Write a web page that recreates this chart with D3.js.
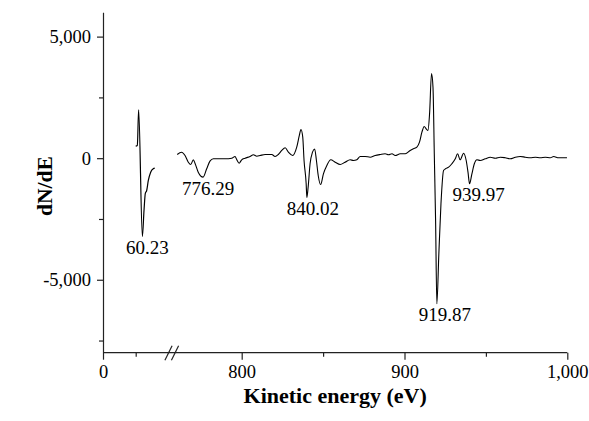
<!DOCTYPE html>
<html><head><meta charset="utf-8">
<script src="https://cdn.jsdelivr.net/npm/d3@7"></script>
<style>
body{margin:0;background:#fff;}
text{font-family:"Liberation Serif","Times New Roman",serif;fill:#000;}
</style></head><body>
<svg id="chart" width="589" height="421"></svg>
<script>
// ---- data ----
const lowEnergy = [50.0, 52.5, 54.5, 60.23, 62.7, 64.7, 66.8, 69.3, 72.9, 76.9, 79.1];
const lowSignal = [494, 520, 1990, -3220, -2151, -1452, -1329, -917, -576, -436, -411];

const highEnergy = [760.4, 763.1, 765.2, 767.2, 768.7, 770.3, 771.3, 773.3, 776.29, 778.5,
  780.5, 782.6, 785.6, 789.8, 793.9, 795.9, 797.0, 798.4, 800.0, 802.1,
  805.1, 807.2, 809.3, 811.3, 814.4, 816.4, 818.5, 820.5, 822.5, 824.6,
  826.7, 828.7, 831.3, 833.8, 835.4, 836.4, 837.5, 838.3, 839.6, 840.02,
  840.8, 842.0, 843.5, 844.8, 845.9, 847.0, 848.5, 850.2, 852.3, 854.7,
  857.4, 860.5, 863.5, 866.6, 868.6, 870.7, 872.8, 875.8, 878.9, 882.0,
  885.1, 888.1, 890.2, 892.3, 894.3, 897.4, 900.5, 903.5, 905.5, 907.6,
  909.2, 910.7, 912.1, 913.3, 914.4, 915.4, 916.6, 917.5, 918.3, 919.1,
  919.87, 921.1, 922.4, 924.0, 925.2, 927.1, 929.1, 931.2, 932.6, 934.2,
  936.3, 937.9, 939.0, 939.97, 941.4, 942.9, 944.5, 946.5, 949.6, 952.7,
  955.8, 958.8, 961.9, 965.0, 968.1, 971.1, 974.2, 977.3, 980.4, 983.4,
  986.5, 989.6, 991.6, 994.7, 999.8];
const highSignal = [152, 247, 111, -165, -259, -66, -206, -576, -780, -436,
  -123, -25, -25, -25, 0, 70, -66, -206, -66, 0,
  70, 140, 82, 111, 152, 152, 152, 70, 152, 317,
  428, 247, 111, 452, 934, 1180, 864, -95, -1053, -1616,
  -1200, -230, 250, 380, -95, -711, -1082, -642, -300, -66,
  -165, -259, -165, -66, -95, -66, 70, 70, 41, 111,
  152, 181, 140, 181, 111, 181, 181, 317, 387, 452,
  658, 1069, 1304, 1209, 1139, 1826, 3480, 2920, 181, -2562,
  -5989, -3932, -1876, -506, -436, -370, -230, -25, 181, -66,
  206, -95, -576, -1053, -642, -230, -66, -95, -25, 41,
  0, 41, 16, -25, 41, 70, 41, 16, 41, 16,
  41, 16, 70, 16, 16];

const peakEnergy = [60.23, 776.29, 840.02, 919.87, 939.97];
const peakSignal = [-3220, -780, -1616, -5989, -1053];
const peakLabels = ["60.23", "776.29", "840.02", "919.87", "939.97"];

const yTicks = [-5000, 0, 5000];
const yMinorTicks = [-7500, -2500, 2500];
const lowTicks = [0];
const lowMinorTicks = [50];
const highTicks = [800, 900, 1000];
const highMinorTicks = [850, 950];

// ---- layout ----
const svg = d3.select("#chart");
const plotLeft = 103, plotRight = 567.3, plotTop = 12.3, plotBottom = 352.7;
const breakX = 172;

const y = d3.scaleLinear().domain([-8000, 6000]).range([plotBottom, plotTop]);
const xLow = d3.scaleLinear().domain([0, 100]).range([plotLeft, 168.4]);
const xHigh = d3.scaleLinear().domain([800, 1000]).range([241.7, plotRight]);

const fmt = d => d3.format(",")(d).replace("\u2212", "-");
const axisColor = "#222";
const tickFont = "18.5px";

function styleAxis(g) {
  g.selectAll("path, line").attr("stroke", axisColor).attr("stroke-width", 1.2);
  g.selectAll("text").style("font-size", tickFont).attr("fill", "#000")
    .style("font-family", '"Liberation Serif","Times New Roman",serif');
}

// y axis
const gy = svg.append("g").attr("transform", `translate(${plotLeft},0)`)
  .call(d3.axisLeft(y).tickValues(yTicks).tickFormat(fmt).tickSize(6).tickSizeOuter(0).tickPadding(6));
styleAxis(gy);
const gyMinor = svg.append("g").attr("transform", `translate(${plotLeft},0)`)
  .call(d3.axisLeft(y).tickValues(yMinorTicks).tickFormat("").tickSize(4).tickSizeOuter(0));
gyMinor.select(".domain").remove();
styleAxis(gyMinor);

// x axis line (continuous) and ticks
svg.append("line").attr("x1", plotLeft).attr("x2", plotRight)
  .attr("y1", plotBottom).attr("y2", plotBottom)
  .attr("stroke", axisColor).attr("stroke-width", 1.2);

function xAxisPart(scale, major, minor) {
  const g = svg.append("g").attr("transform", `translate(0,${plotBottom})`)
    .call(d3.axisBottom(scale).tickValues(major).tickFormat(fmt).tickSize(7).tickSizeOuter(0).tickPadding(5));
  g.select(".domain").remove();
  styleAxis(g);
  const gm = svg.append("g").attr("transform", `translate(0,${plotBottom})`)
    .call(d3.axisBottom(scale).tickValues(minor).tickFormat("").tickSize(4).tickSizeOuter(0));
  gm.select(".domain").remove();
  styleAxis(gm);
}
xAxisPart(xLow, lowTicks, lowMinorTicks);
xAxisPart(xHigh, highTicks, highMinorTicks);

// break marks
[-3.5, 3].forEach(off => {
  svg.append("line")
    .attr("x1", breakX + off - 3.6).attr("y1", plotBottom + 7.5)
    .attr("x2", breakX + off + 3.6).attr("y2", plotBottom - 7)
    .attr("stroke", axisColor).attr("stroke-width", 1.2);
});

// curves
const lowData = lowEnergy.map((e, i) => [e, lowSignal[i]]);
const highData = highEnergy.map((e, i) => [e, highSignal[i]]);
const lineLow = d3.line().x(d => xLow(d[0])).y(d => y(d[1])).curve(d3.curveMonotoneX);
const lineHigh = d3.line().x(d => xHigh(d[0])).y(d => y(d[1])).curve(d3.curveMonotoneX);

svg.append("path").datum(lowData).attr("d", lineLow)
  .attr("fill", "none").attr("stroke", "#000").attr("stroke-width", 1.2);
svg.append("path").datum(highData).attr("d", lineHigh)
  .attr("fill", "none").attr("stroke", "#000").attr("stroke-width", 1.1);

// peak labels
const labelShift = [5, 5, 6, 8, 9];
peakEnergy.forEach((e, i) => {
  const sx = e < 500 ? xLow(e) : xHigh(e);
  svg.append("text")
    .attr("x", sx + labelShift[i]).attr("y", y(peakSignal[i]) + 17.5)
    .attr("text-anchor", "middle")
    .style("font-size", "19px")
    .text(peakLabels[i]);
});

// axis titles
svg.append("text")
  .attr("x", (plotLeft + plotRight) / 2).attr("y", 403)
  .attr("text-anchor", "middle")
  .style("font-size", "22px").style("font-weight", "bold")
  .text("Kinetic energy (eV)");

svg.append("text")
  .attr("transform", "translate(52,186) rotate(-90)")
  .attr("text-anchor", "middle")
  .style("font-size", "21.5px").style("font-weight", "bold")
  .text("dN/dE");
</script>
</body></html>
